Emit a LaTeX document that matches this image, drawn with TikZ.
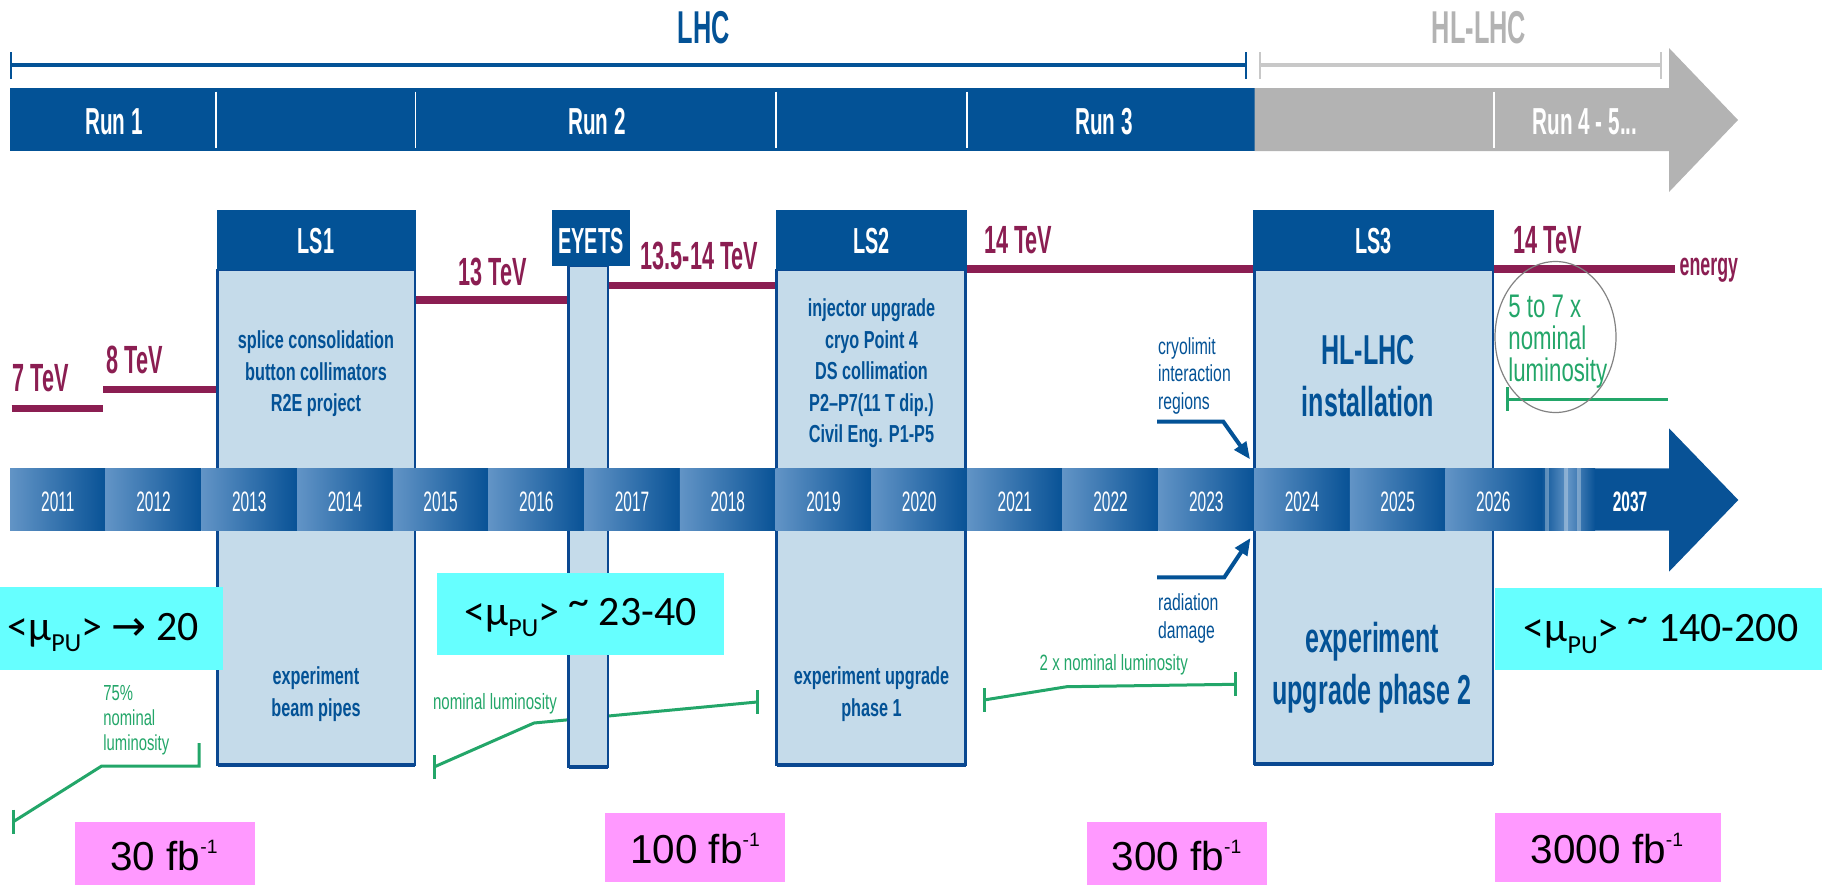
\documentclass[tikz,border=0pt]{standalone}
\usepackage{fontspec}
\setmainfont{Liberation Sans}
\newfontfamily\cndhead{Liberation Sans}[FakeStretch=0.55]
\newfontfamily\cndbig{Liberation Sans}[FakeStretch=0.6]
\newfontfamily\cndbody{Liberation Sans}[FakeStretch=0.66]
\newfontfamily\cndnote{Liberation Sans}[FakeStretch=0.68]
\newfontfamily\calib{Carlito}
\newfontfamily\arrowsym{DejaVu Sans}
\usetikzlibrary{arrows.meta,positioning}
\definecolor{lhcblue}{RGB}{3,82,150}
\definecolor{lsedge}{RGB}{10,72,145}
\definecolor{lsfill}{RGB}{197,219,234}
\definecolor{tevred}{RGB}{139,30,82}
\definecolor{hlgray}{RGB}{179,179,179}
\definecolor{hlline}{RGB}{200,200,200}
\definecolor{lumigreen}{RGB}{35,166,105}
\definecolor{yrlight}{RGB}{98,148,198}
\definecolor{yrdark}{RGB}{8,82,150}
\definecolor{pucyan}{RGB}{102,255,255}
\definecolor{fbpink}{RGB}{255,153,255}
\definecolor{ellgray}{RGB}{130,130,130}
\newcommand{\mupu}{<µ\raisebox{-3.3pt}{\fontsize{7.4}{8}\selectfont PU}>}
\newcommand{\pileup}{\raisebox{0.22em}{\textasciitilde}}
\newcommand{\invfb}[1]{#1 fb\raisebox{4.7pt}{\fontsize{5.5}{6}\selectfont -1}}

\begin{document}
\begin{tikzpicture}[x=0.1mm,y=-0.1mm,
  lbl/.style={inner sep=0pt,anchor=base},
  headtxt/.style={lbl,text=white,font=\cndhead\bfseries\fontsize{10.3}{12}\selectfont},
  runtxt/.style={headtxt,font=\cndhead\bfseries\fontsize{10.7}{12}\selectfont},
  toptxt/.style={lbl,font=\cndhead\bfseries\fontsize{13.1}{15}\selectfont},
  tevtxt/.style={lbl,anchor=base west,text=tevred,font=\cndhead\bfseries\fontsize{11.2}{13}\selectfont},
  yeartxt/.style={lbl,text=white,font=\cndhead\fontsize{8}{9}\selectfont},
  bodytxt/.style={inner sep=0pt,anchor=north,align=center,text=lhcblue,font=\cndbody\bfseries\fontsize{7}{8.96}\selectfont},
  bigtxt/.style={bodytxt,font=\cndbig\bfseries\fontsize{11.9}{14.7}\selectfont},
  notetxt/.style={inner sep=0pt,anchor=north west,align=left,text=lhcblue,font=\cndnote\fontsize{6.6}{7.9}\selectfont},
  lumitxt/.style={notetxt,text=lumigreen,font=\cndnote\fontsize{6.2}{7.1}\selectfont},
  putxt/.style={lbl,font=\calib\fontsize{11.9}{13}\selectfont},
  fbtxt/.style={lbl,font=\fontsize{11.5}{13}\selectfont},
  lsbody/.style={fill=lsfill,draw=lsedge,line width=0.25mm},
  tevline/.style={draw=tevred,line width=0.75mm},
  lumi/.style={draw=lumigreen,line width=0.3mm},
  callout/.style={draw=lhcblue,line width=0.4mm,-{Triangle[length=1.7mm,width=1.4mm]}}]
\useasboundingbox (0,0) rectangle (1831,885);

% LHC / HL-LHC span
\draw[lhcblue,line width=0.47mm] (11,65) -- (1246,65);
\draw[hlline,line width=0.47mm] (1260,65) -- (1661,65);
\foreach \x/\c in {11/lhcblue,1246/lhcblue,1260/hlline,1661/hlline}
  \draw[\c,line width=0.22mm] (\x,52) -- (\x,79);
\node[toptxt,text=lhcblue] (lhc) at (704,43) {LHC};
\node[toptxt,text=hlgray] (hllhc) at (1479,43) {HL-LHC};

% runs
\fill[lhcblue] (10,88) rectangle (1254.5,151);
\fill[hlgray] (1254.5,88) -- (1669,88) -- (1669,48) -- (1738,120) -- (1669,192)
  -- (1669,151) -- (1254.5,151) -- cycle;
\foreach \x in {216,415.5,776,967,1494}
  \draw[white,line width=0.15mm] (\x,91.7) -- (\x,147.7);
\foreach \n/\x/\t in {run1/114/Run 1,run2/597/Run 2,run3/1104/Run 3}
  \node[runtxt] (\n) at (\x,134) {\t};
\node[runtxt] (run45) at (1585,134) {Run 4 - 5...};

% energy
\foreach \a/\b/\y in {11.7/103.3/408.3,103.3/217/389.3,415.7/568.3/300,
    609/776/285.7,967/1253.3/269,1494/1675/269}
  \draw[tevline] (\a,\y) -- (\b,\y);
\node[tevtxt] (tev7) at (11.7,391.7) {7 TeV};
\node[tevtxt] (tev8) at (105.7,373.3) {8 TeV};
\node[tevtxt] (tev13) at (457.7,285.7) {13 TeV};
\node[tevtxt] (tev135) at (640,269.3) {13.5-14 TeV};
\node[tevtxt] (tev14a) at (983.4,253.3) {14 TeV};
\node[tevtxt] (tev14b) at (1512.7,253.3) {14 TeV};
\node[tevtxt,font=\cndhead\bfseries\fontsize{9.2}{11}\selectfont] (energy) at (1679,275) {energy};

% luminosity
\draw[lumi] (13.3,821.7) -- (101.7,766) -- (199,766) -- (199,743);
\draw[lumi] (434,767) -- (534,723) -- (757,702);
\draw[lumi] (984,700) -- (1066.7,686.7) -- (1235.3,684.3);
\draw[lumi] (1507,399.3) -- (1668,399.3);
\foreach \x/\y in {13.3/821.7,434/767,757/702,984/700,1235.3/684.3,1507/399.3}
  \draw[lumi] (\x,\y-12) -- (\x,\y+12);

% shutdowns
\foreach \l/\r/\t/\b in {217.5/415/270/765,568.5/608/266/767,776.5/965.5/270/765,1254.3/1493/270/764}{
  \filldraw[lsbody] (\l,\t) rectangle (\r,\b);
  \draw[lsedge,line width=0.45mm] (\l,\b) -- (\r,\b);
}

% years
\foreach \yr [count=\i from 0] in {2011,...,2026}{
  \shade[left color=yrlight,right color=yrdark] ({10+95.7*\i},468.3) rectangle ({105.7+95.7*\i},530.7);
  \node[yeartxt] (y\yr) at ({57.85+95.7*\i},511.7) {\yr};
}
\fill[yrdark] (1541,468.3) -- (1669,468.3) -- (1669,428.3) -- (1738.3,500) -- (1669,571.7)
  -- (1669,530.7) -- (1541,530.7) -- cycle;
\shade[left color=yrdark,right color=yrdark,middle color=yrlight] (1541,468.3) rectangle (1595,530.7);
\foreach \x in {1547,1566,1579}
  \fill[white,opacity=0.3] (\x-2,468.3) rectangle (\x+2,530.7);
\node[yeartxt,font=\cndhead\bfseries\fontsize{8}{9}\selectfont] (y2037) at (1630,511.7) {2037};

% shutdown headers
\foreach \l/\r/\b in {217/415.7/270,551.7/630/266,776/967/270,1253.3/1494/270}
  \fill[lhcblue] (\l,210) rectangle (\r,\b);
\node[headtxt] (ls1) at (316,253.3) {LS1};
\node[headtxt] (eyets) at (591,253.3) {EYETS};
\node[headtxt] (ls2) at (871.5,253.3) {LS2};
\node[headtxt] (ls3) at (1373.5,253.3) {LS3};

\node[bodytxt] (ls1work) at (316,330) {splice consolidation\\button collimators\\R2E project};
\node[bodytxt] (ls1exp) at (316,666.4) {experiment\\beam pipes};
\node[bodytxt] (ls2work) at (871.5,298.4) {injector upgrade\\cryo Point 4\\DS collimation\\P2–P7(11 T dip.)\\Civil Eng. P1-P5};
\node[bodytxt] (ls2exp) at (871.5,666.4) {experiment upgrade\\phase 1};
\node[bigtxt] (ls3work) at (1368,335) {HL-LHC\\installation};
\node[bigtxt] (ls3exp) at (1372,621.7) {experiment\\upgrade phase 2};

\node[notetxt] (cryo) at (1157.3,336.7) {cryolimit\\interaction\\regions};
\node[notetxt] (raddmg) at (1157.3,593.4) {radiation\\damage};
\node[lumitxt] (lumi75) at (102.7,685) {75\%\\nominal\\luminosity};
\node[lumitxt,anchor=base west,font=\cndnote\fontsize{6.3}{7}\selectfont] (lumi1) at (432.3,709.3) {nominal luminosity};
\node[lumitxt,anchor=base west,font=\cndnote\fontsize{6.3}{7}\selectfont] (lumi2) at (1039,670) {2 x nominal luminosity};
\node[lumitxt,font=\cndnote\fontsize{9.3}{9.1}\selectfont] (lumi57) at (1507.7,294.3) {5 to 7 x\\nominal\\luminosity};
\draw[ellgray,line width=0.12mm] (1555.5,337) ellipse [x radius=6.05mm,y radius=7.55mm];

\coordinate (cryostart) at (1157,421.7);
\coordinate (cryoknee) at (1223.3,421.7);
\coordinate (cryotip) at (1250,459.3);
\draw[callout] (cryostart) -- (cryoknee) -- (cryotip);
\coordinate (radstart) at (1157,577.3);
\coordinate (radknee) at (1224.3,577.3);
\coordinate (radtip) at (1250.5,538);
\draw[callout] (radstart) -- (radknee) -- (radtip);

% pile-up
\fill[pucyan] (0,587) rectangle (223,670);
\fill[pucyan] (437,573) rectangle (724,655);
\fill[pucyan] (1495,588.3) rectangle (1822,670);
\node[putxt] (pu1) at (103,640) {\mupu\ {\arrowsym →} 20};
\node[putxt] (pu2) at (580.5,625) {\mupu\ \pileup\ 23-40};
\node[putxt] (pu3) at (1661,641.7) {\mupu\ \pileup\ 140-200};

% integrated luminosity
\foreach \l/\t/\r/\b in {75/821.7/255/885,604.6/813.3/784.8/881.7,1087/821.7/1266.7/885,1495/813.3/1721/881.7}
  \fill[fbpink] (\l,\t) rectangle (\r,\b);
\node[fbtxt] (fb30) at (164,870) {\invfb{30}};
\node[fbtxt] (fb100) at (695,863.3) {\invfb{100}};
\node[fbtxt] (fb300) at (1176.5,870) {\invfb{300}};
\node[fbtxt] (fb3000) at (1607,863.3) {\invfb{3000}};
\end{tikzpicture}
\end{document}
